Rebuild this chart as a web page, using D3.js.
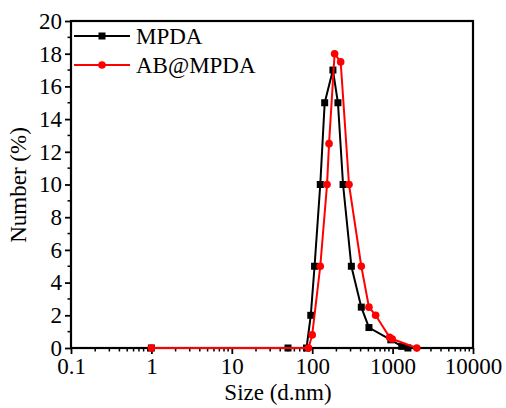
<!DOCTYPE html>
<html><head><meta charset="utf-8">
<script src="https://cdn.jsdelivr.net/npm/d3@7"></script>
<style>body{margin:0;background:#fff}svg{display:block}
#c text{font-family:'Liberation Serif',serif !important;}</style>
</head><body>
<svg id="c" width="506" height="408" style="font-family:'Liberation Serif',serif">
<text id="xt" x="278" y="400" text-anchor="middle" font-family="Liberation Serif" font-size="23">Size (d.nm)</text>
<text id="yt" transform="translate(26,185) rotate(-90)" text-anchor="middle" font-family="Liberation Serif" font-size="23">Number (%)</text>
</svg>
<script>
const mpdaSize = [1, 50, 85, 96, 107, 126, 143, 181, 209, 242, 307, 408, 508, 950, 1300, 1550];
const mpdaNum  = [0, 0, 0, 2, 5, 10, 15, 17, 15, 10, 5, 2.5, 1.25, 0.5, 0.1, 0];
const abSize = [1, 90, 100, 126, 153, 162, 190, 226, 287, 408, 508, 615, 918, 990, 2000];
const abNum  = [0, 0, 0.8, 5, 10, 12.5, 18, 17.5, 10, 5, 2.5, 2, 0.65, 0.55, 0];
const xTicks = [0.1, 1, 10, 100, 1000, 10000];
const xTickLabels = ["0.1", "1", "10", "100", "1000", "10000"];
const yTicks = [0, 2, 4, 6, 8, 10, 12, 14, 16, 18, 20];
const seriesNames = ["MPDA", "AB@MPDA"];
const colors = ["#000000", "#ff0000"];

const FONT = "Liberation Serif";
const FS = 23;
const svg = d3.select("#c");
const L = 71, R = 473, T = 21, B = 348;
const x = d3.scaleLog().domain([0.1, 10000]).range([L, R]);
const y = d3.scaleLinear().domain([0, 20]).range([B, T]);
const font = sel => sel.attr("font-family", FONT).style("font-family", FONT)
  .attr("font-size", FS).attr("fill", "#000");

const minorX = [];
for (let d = 0.1; d < 10000; d *= 10) for (let k = 2; k <= 9; k++) minorX.push(d * k);
svg.append("g").selectAll("line").data(minorX).join("line")
  .attr("x1", d => x(d)).attr("x2", d => x(d)).attr("y1", B).attr("y2", B + 3.5)
  .attr("stroke", "#000").attr("stroke-width", 1.5);
const minorY = d3.range(1, 20, 2);
svg.append("g").selectAll("line").data(minorY).join("line")
  .attr("x1", L).attr("x2", L - 3.5).attr("y1", d => y(d)).attr("y2", d => y(d))
  .attr("stroke", "#000").attr("stroke-width", 1.5);

const xAxis = svg.append("g").attr("transform", `translate(0,${B})`)
  .call(d3.axisBottom(x).tickValues(xTicks).tickFormat((d, i) => xTickLabels[i]).tickSize(6).tickPadding(4));
const yAxis = svg.append("g").attr("transform", `translate(${L},0)`)
  .call(d3.axisLeft(y).tickValues(yTicks).tickSize(6).tickPadding(3));
[xAxis, yAxis].forEach(g => {
  g.attr("font-family", FONT).attr("font-size", FS);
  g.select(".domain").remove();
  g.selectAll("line").attr("stroke", "#000").attr("stroke-width", 1.8);
  g.selectAll("text").call(font);
});

svg.append("rect").attr("x", L).attr("y", T).attr("width", R - L).attr("height", B - T)
  .attr("fill", "none").attr("stroke", "#000").attr("stroke-width", 2.2);

const series = [
  {name: seriesNames[0], xs: mpdaSize, ys: mpdaNum, color: colors[0], marker: "square"},
  {name: seriesNames[1], xs: abSize, ys: abNum, color: colors[1], marker: "circle"}
];
const line = d3.line().x(d => x(d[0])).y(d => y(d[1]));
series.forEach(s => {
  const pts = s.xs.map((v, i) => [v, s.ys[i]]);
  svg.append("path").datum(pts).attr("d", line).attr("fill", "none")
    .attr("stroke", s.color).attr("stroke-width", 2);
  if (s.marker === "square") {
    svg.append("g").selectAll("rect").data(pts).join("rect")
      .attr("x", d => x(d[0]) - 3.5).attr("y", d => y(d[1]) - 3.5)
      .attr("width", 7).attr("height", 7).attr("fill", s.color);
  } else {
    svg.append("g").selectAll("circle").data(pts).join("circle")
      .attr("cx", d => x(d[0])).attr("cy", d => y(d[1])).attr("r", 3.8).attr("fill", s.color);
  }
});

const legY = [36, 65];
series.forEach((s, i) => {
  const g = svg.append("g");
  g.append("line").attr("x1", 74).attr("x2", 130).attr("y1", legY[i]).attr("y2", legY[i])
    .attr("stroke", s.color).attr("stroke-width", 2);
  if (s.marker === "square") g.append("rect").attr("x", 98.5).attr("y", legY[i] - 3.5).attr("width", 7).attr("height", 7).attr("fill", s.color);
  else g.append("circle").attr("cx", 102).attr("cy", legY[i]).attr("r", 3.8).attr("fill", s.color);
  g.append("text").attr("x", 136).attr("y", legY[i] + 8).call(font).text(s.name);
});

if (document.fonts && document.fonts.load) {
  document.fonts.load("23px 'Liberation Serif'").then(() => {
    svg.selectAll("text").call(font);
  }).catch(() => {});
}
</script>
</body></html>
